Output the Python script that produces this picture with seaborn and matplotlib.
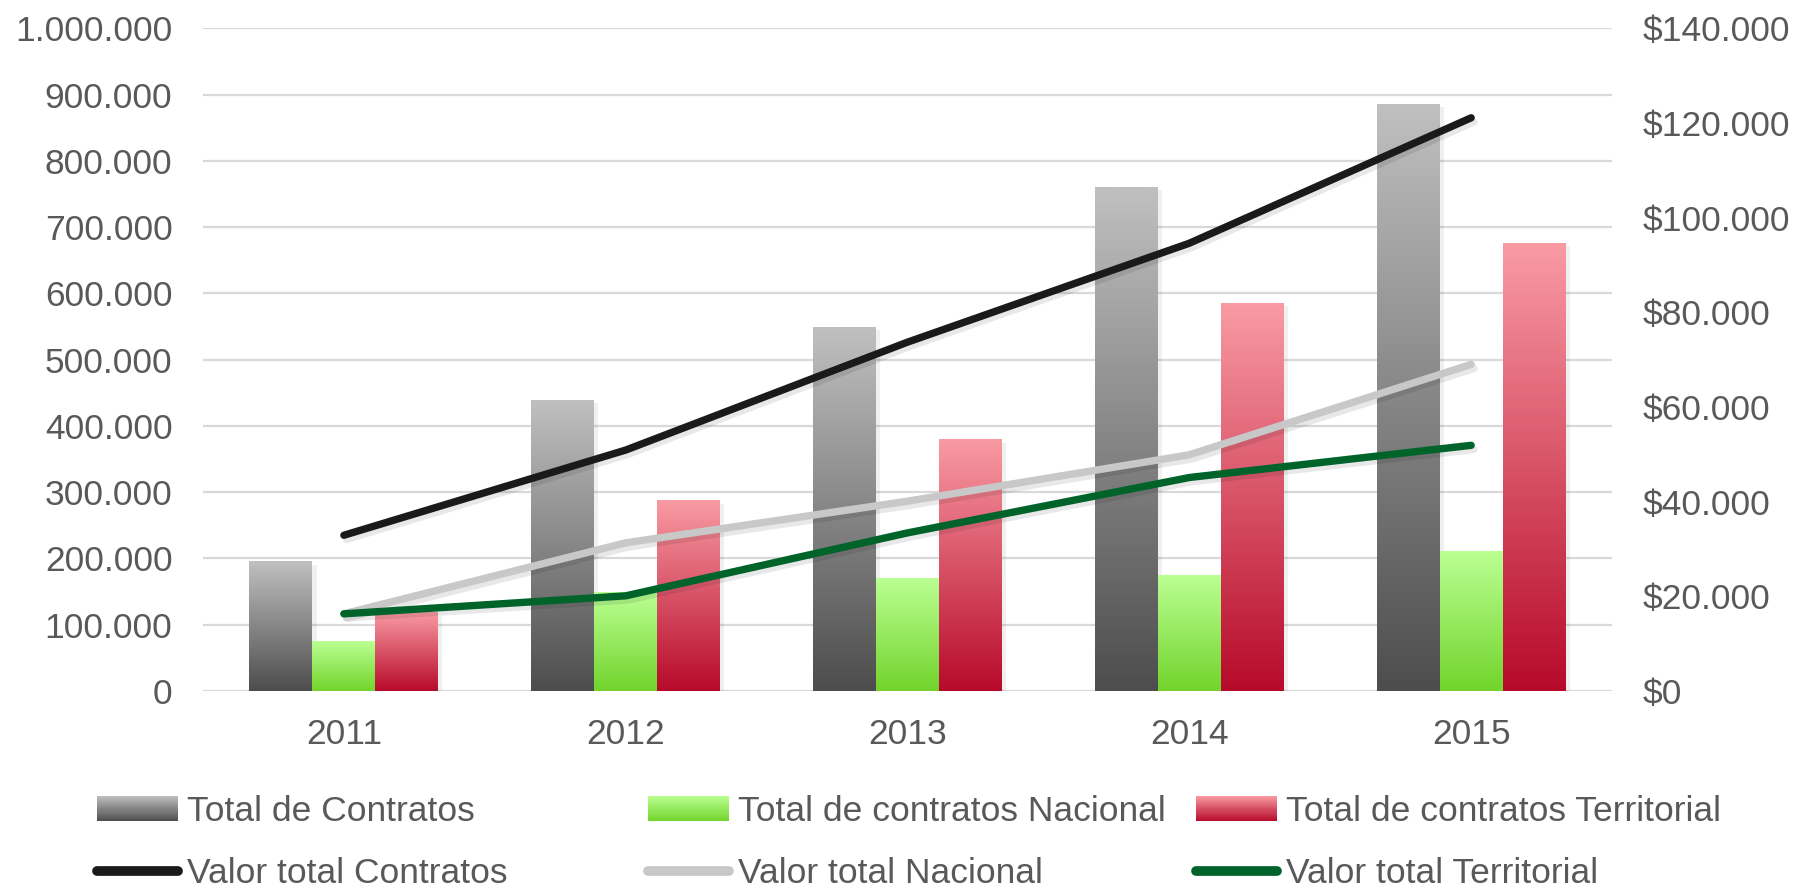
import numpy as np
import pandas as pd
import seaborn as sns
import matplotlib.pyplot as plt
import matplotlib.patheffects as pe
from matplotlib.patches import Rectangle
from matplotlib.lines import Line2D
from matplotlib.legend_handler import HandlerBase
from matplotlib.colors import LinearSegmentedColormap, to_rgb
from matplotlib.ticker import FuncFormatter

years = ['2011', '2012', '2013', '2014', '2015']
total_contratos = [195000, 439000, 549000, 760000, 885000]
contratos_nacional = [74000, 149000, 170000, 175000, 210000]
contratos_territorial = [118000, 287000, 379000, 585000, 676000]
valor_total = [32900, 50900, 73700, 94600, 121100]
valor_nacional = [16300, 31300, 40100, 49900, 69000]
valor_territorial = [16300, 20100, 33400, 45100, 51900]

bar_labels = ['Total de Contratos', 'Total de contratos Nacional',
              'Total de contratos Territorial']
line_labels = ['Valor total Contratos', 'Valor total Nacional',
               'Valor total Territorial']

# gradient colours (top, bottom) for every bar series
bar_grad = [('#c0c0c0', '#4d4d4d'), ('#bbff93', '#72d42c'), ('#f99ba3', '#b70a2a')]
line_colors = ['#1a1a1a', '#c8c8c8', '#00632a']
txt_color = '#595959'

df_bars = pd.DataFrame({
    'year': years * 3,
    'serie': [l for l in bar_labels for _ in years],
    'valor': total_contratos + contratos_nacional + contratos_territorial,
})
df_lines = pd.DataFrame({
    'pos': list(range(len(years))) * 3,
    'serie': [l for l in line_labels for _ in years],
    'valor': valor_total + valor_nacional + valor_territorial,
})

sns.set_style('white')
plt.rcParams['font.family'] = ['Liberation Sans', 'DejaVu Sans']

fig = plt.figure(figsize=(17.98, 8.91), dpi=100)
ax = fig.add_axes([0.1129, 0.2245, 0.7837, 0.7437])

sns.barplot(data=df_bars, x='year', y='valor', hue='serie', hue_order=bar_labels,
            palette=[g[0] for g in bar_grad], width=0.67, saturation=1,
            legend=False, ax=ax, zorder=2)

grad = np.linspace(0, 1, 256)[:, None]
for cont, (top, bot) in zip(ax.containers, bar_grad):
    cmap = LinearSegmentedColormap.from_list('g', [top, bot])
    for bar in cont:
        x0, y0 = bar.get_x(), bar.get_y()
        w, h = bar.get_width(), bar.get_height()
        ax.imshow(grad, extent=[x0, x0 + w, y0, y0 + h], origin='upper',
                  cmap=cmap, aspect='auto', zorder=2.1, interpolation='bilinear')
        bar.set_facecolor('none')
        bar.set_edgecolor('none')
        bar.set_path_effects([pe.SimplePatchShadow(offset=(3, -2), shadow_rgbFace='black',
                                                   alpha=0.06)])

ax.set_xlim(-0.5, 4.5)
ax.set_ylim(0, 1000000)
ax.set_yticks(np.arange(0, 1000001, 100000))
ax.yaxis.set_major_formatter(FuncFormatter(lambda v, p: f'{v:,.0f}'.replace(',', '.')))
ax.yaxis.grid(True, color='#d9d9d9', lw=1.6, zorder=0)
ax.set_axisbelow(True)
for s in ax.spines.values():
    s.set_visible(False)
ax.tick_params(axis='y', length=0, pad=22, labelsize=25.5, labelcolor=txt_color)
ax.tick_params(axis='x', length=0, pad=19.5, labelsize=25.5, labelcolor=txt_color)
ax.set_xlabel('')
ax.set_ylabel('')

ax2 = ax.twinx()
sns.lineplot(data=df_lines, x='pos', y='valor', hue='serie', hue_order=line_labels,
             palette=line_colors, lw=5.3, legend=False, ax=ax2)
for ln in ax2.get_lines():
    ln.set_solid_capstyle('round')
    ln.set_solid_joinstyle('round')
    ln.set_path_effects([pe.SimpleLineShadow(offset=(2, -3), alpha=0.09), pe.Normal()])
ax2.set_ylim(0, 140000)
ax2.set_yticks(np.arange(0, 140001, 20000))
ax2.yaxis.set_major_formatter(FuncFormatter(lambda v, p: '$' + f'{v:,.0f}'.replace(',', '.')))
ax2.tick_params(axis='y', length=0, pad=22, labelsize=25.5, labelcolor=txt_color)
for s in ax2.spines.values():
    s.set_visible(False)
ax2.set_xlabel('')
ax2.set_ylabel('')
ax.set_xlim(-0.5, 4.5)


class GradHandle:
    def __init__(self, top, bot):
        self.top, self.bot = top, bot


class HandlerGrad(HandlerBase):
    def create_artists(self, legend, orig_handle, xdescent, ydescent, width, height,
                       fontsize, trans):
        n = 24
        top, bot = np.array(to_rgb(orig_handle.top)), np.array(to_rgb(orig_handle.bot))
        arts = []
        for i in range(n):
            c = top + (bot - top) * (i + 0.5) / n
            y = -ydescent + height * (1 - (i + 1) / n)
            arts.append(Rectangle((-xdescent, y), width, height / n + 0.3,
                                  facecolor=c, edgecolor='none', transform=trans))
        return arts


col_x = [97 / 1798, 648 / 1798, 1196 / 1798]
for i in range(3):
    hb = GradHandle(*bar_grad[i])
    hl = Line2D([], [], color=line_colors[i], lw=7, solid_capstyle='round')
    fig.legend([hb, hl], [bar_labels[i], line_labels[i]],
               handler_map={GradHandle: HandlerGrad()},
               loc='upper left', bbox_to_anchor=(col_x[i], 0.1075),
               frameon=False, fontsize=25.5, labelcolor=txt_color,
               handlelength=2.3, handleheight=0.7, handletextpad=0.25,
               labelspacing=0.82, borderpad=0, borderaxespad=0)

fig.savefig('out.png', dpi=100, facecolor='white')
